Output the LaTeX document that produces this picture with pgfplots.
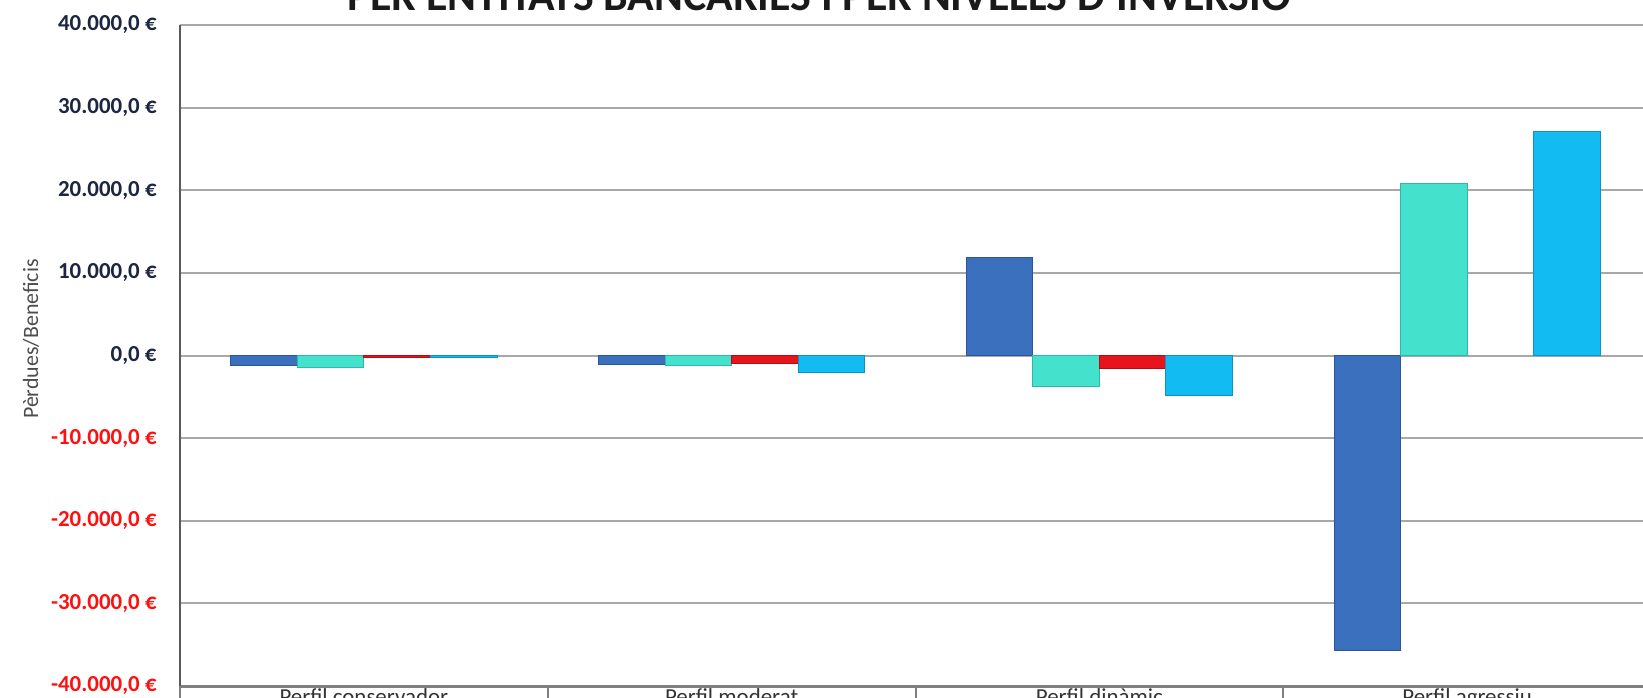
\documentclass[border=0pt]{standalone}
\usepackage{pgfplots}
\pgfplotsset{compat=1.18}
\usepackage{fontspec}
\setmainfont{Carlito}
\definecolor{cDB}{HTML}{3B70BF}
\definecolor{cDBd}{HTML}{2A5599}
\definecolor{cTQ}{HTML}{44E2CC}
\definecolor{cTQd}{HTML}{2FB8A5}
\definecolor{cRD}{HTML}{E8141C}
\definecolor{cRDd}{HTML}{B00E14}
\definecolor{cLB}{HTML}{12BBF2}
\definecolor{cLBd}{HTML}{0C93C2}
\definecolor{gridgray}{HTML}{A8A8A8}
\definecolor{axgray}{HTML}{7F7F7F}
\definecolor{labnavy}{HTML}{1C2541}
\definecolor{negred}{HTML}{FF1010}
\definecolor{titlecol}{HTML}{1A1A1A}
\begin{document}
\begin{tikzpicture}
\useasboundingbox (0,0) rectangle (821.5bp,-349bp);
\clip (0,0) rectangle (821.5bp,-349bp);
\begin{axis}[
  at={(90bp,-343bp)}, anchor=south west,
  scale only axis, width=735.5bp, height=330.5bp,
  xmin=-0.5, xmax=3.5, ymin=-40000, ymax=40000,
  scaled y ticks=false,
  axis x line*=bottom, axis y line*=left,
  ybar, bar width=0.181,
  x axis line style={draw=axgray, line width=1.5bp, -},
  y axis line style={draw=black!65, line width=1bp, -},
  ymajorgrids, grid style={draw=gridgray, line width=1bp},
  ytick={-40000,-30000,-20000,-10000,0,10000,20000,30000,40000},
  yticklabels={{\textcolor{negred}{-40.000,0 €}},{\textcolor{negred}{-30.000,0 €}},{\textcolor{negred}{-20.000,0 €}},{\textcolor{negred}{-10.000,0 €}},{0,0 €},{10.000,0 €},{20.000,0 €},{30.000,0 €},{40.000,0 €}},
  yticklabel style={font=\bfseries\fontsize{11.5}{12}\selectfont, text=labnavy, inner sep=0pt, anchor=east, xshift=-11.5bp},
  ytick style={draw=none},
  xtick={0,1,2,3},
  xticklabels={Perfil conservador, Perfil moderat, Perfil dinàmic, Perfil agressiu},
  xticklabel style={font=\fontsize{11.5}{12}\selectfont, text=black!80, inner sep=0pt, anchor=north, yshift=3bp},
  minor xtick={-0.5,0.5,1.5,2.5},
  major x tick style={draw=none},
  minor x tick style={draw=axgray, line width=1bp},
  minor tick length=10bp,
  xtick align=outside,
]
\addplot[fill=cDB, draw=cDBd, line width=0.5bp, bar shift=-0.2715] coordinates {(0,-1200) (1,-1100) (2,11900) (3,-35700)};
\addplot[fill=cTQ, draw=cTQd, line width=0.5bp, bar shift=-0.0905] coordinates {(0,-1400) (1,-1150) (2,-3700) (3,20800)};
\addplot[fill=cRD, draw=cRDd, line width=0.5bp, bar shift=0.0905] coordinates {(0,-300) (1,-950) (2,-1600)};
\addplot[fill=cLB, draw=cLBd, line width=0.5bp, bar shift=0.2715] coordinates {(0,-250) (1,-2000) (2,-4800) (3,27100)};
\end{axis}
\node[anchor=base, font=\bfseries\fontsize{22}{24}\selectfont, text=titlecol] at (409.5bp,-5bp) {PER ENTITATS BANCÀRIES I PER NIVELLS D'INVERSIÓ};
\node[rotate=90, font=\fontsize{11}{12}\selectfont, text=black!70] at (15.5bp,-169.5bp) {Pèrdues/Beneficis};
\end{tikzpicture}
\end{document}
